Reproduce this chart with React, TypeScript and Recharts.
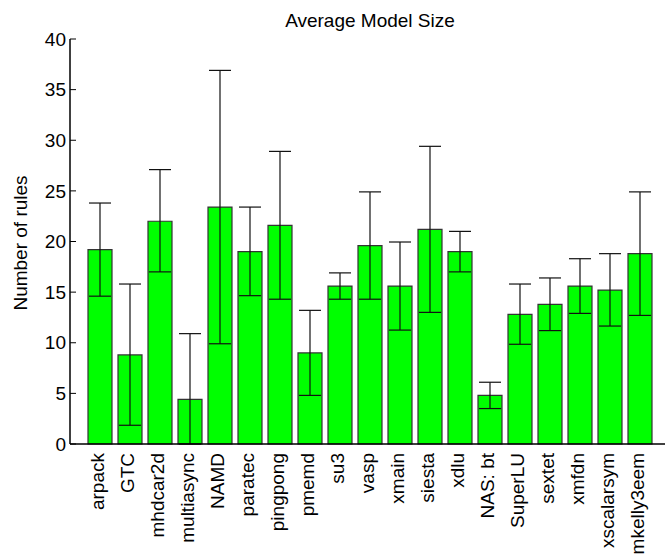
import { BarChart, Bar, XAxis, YAxis, ErrorBar } from "recharts";

// Benchmarks on the x axis
const apps = [
  "arpack", "GTC", "mhdcar2d", "multiasync", "NAMD", "paratec", "pingpong",
  "pmemd", "su3", "vasp", "xmain", "siesta", "xdlu", "NAS: bt", "SuperLU",
  "sextet", "xmfdn", "xscalarsym", "mkelly3eem",
];
// mean number of rules per app
const meanRules = [
  19.2, 8.8, 22.0, 4.4, 23.4, 19.0, 21.6, 9.0, 15.6, 19.6,
  15.6, 21.2, 19.0, 4.8, 12.8, 13.8, 15.6, 15.2, 18.8,
];
// top and bottom of the error bars
const upperRules = [
  23.8, 15.8, 27.1, 10.9, 36.9, 23.4, 28.9, 13.2, 16.9, 24.9,
  19.95, 29.4, 21.0, 6.1, 15.8, 16.4, 18.3, 18.8, 24.9,
];
const lowerRules = [
  14.6, 1.85, 17.0, 0, 9.9, 14.65, 14.3, 4.8, 14.3, 14.3,
  11.25, 13.0, 17.0, 3.5, 9.85, 11.2, 12.9, 11.65, 12.7,
];
const yTicks = [0, 5, 10, 15, 20, 25, 30, 35, 40];

const data = apps.map((name, i) => ({
  name,
  mean: meanRules[i],
  err: [meanRules[i] - lowerRules[i], upperRules[i] - meanRules[i]],
}));

const FONT = "'Liberation Sans', Arial, Helvetica, sans-serif";

function YTick(props: any) {
  const { x, y, payload } = props;
  return (
    <g>
      <text x={x} y={y} dy="0.35em" textAnchor="end" fontSize={19} fontFamily={FONT} fill="#000">
        {payload.value}
      </text>
      <line x1={x + 4} x2={x + 10} y1={y} y2={y} stroke="#000" strokeWidth={1} />
    </g>
  );
}

function XTick(props: any) {
  const { x, y, payload } = props;
  return (
    <text
      x={x}
      y={y}
      dy="0.2em"
      textAnchor="end"
      transform={`rotate(-90, ${x}, ${y})`}
      fontSize={19}
      fontFamily={FONT}
      fill="#000"
    >
      {payload.value}
    </text>
  );
}

export default function App() {
  return (
    <div style={{ position: "absolute", left: 0, top: 0, width: 665, height: 555, overflow: "hidden", background: "#fff" }}>
      <BarChart
        width={680}
        height={555}
        data={data}
        margin={{ top: 39, right: 10, bottom: 11, left: 10 }}
        barCategoryGap={3}
      >
        <text x={370} y={20} dy="0.35em" textAnchor="middle" fontSize={19} fontFamily={FONT} fill="#000">
          Average Model Size
        </text>
        <text
          x={20}
          y={243}
          dy="0.35em"
          textAnchor="middle"
          transform="rotate(-90, 20, 243)"
          fontSize={19}
          fontFamily={FONT}
          fill="#000"
        >
          Number of rules
        </text>
        <XAxis
          dataKey="name"
          interval={0}
          height={100}
          padding={{ left: 15, right: 15 }}
          tickLine={false}
          tickSize={0}
          tickMargin={9}
          tick={<XTick />}
          axisLine={{ stroke: "#000", strokeWidth: 1.5 }}
        />
        <YAxis
          domain={[0, 40]}
          ticks={yTicks}
          width={60}
          tickLine={false}
          tickSize={0}
          tickMargin={4}
          tick={<YTick />}
          axisLine={{ stroke: "#000", strokeWidth: 1.5 }}
        />
        <Bar dataKey="mean" fill="#00ff00" stroke="#333" strokeWidth={1.2} isAnimationActive={false}>
          <ErrorBar dataKey="err" direction="y" width={11} stroke="#111" strokeWidth={1.2} />
        </Bar>
      </BarChart>
    </div>
  );
}
